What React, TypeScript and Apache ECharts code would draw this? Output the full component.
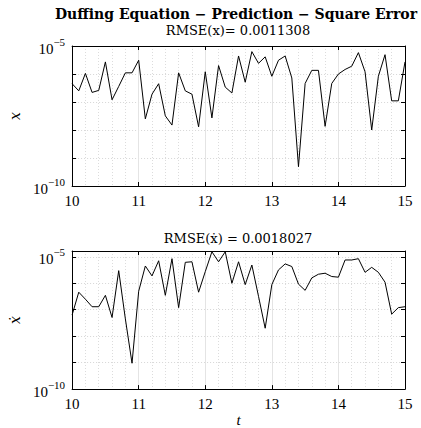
import React, { useEffect, useRef } from 'react';
import * as echarts from 'echarts';

// Time samples (s)
const tValues = [
  10.0, 10.1, 10.2, 10.3, 10.4, 10.5, 10.6, 10.7, 10.8, 10.9,
  11.0, 11.1, 11.2, 11.3, 11.4, 11.5, 11.6, 11.7, 11.8, 11.9,
  12.0, 12.1, 12.2, 12.3, 12.4, 12.5, 12.6, 12.7, 12.8, 12.9,
  13.0, 13.1, 13.2, 13.3, 13.4, 13.5, 13.6, 13.7, 13.8, 13.9,
  14.0, 14.1, 14.2, 14.3, 14.4, 14.5, 14.6, 14.7, 14.8, 14.9,
  15.0,
];

// Square error of the predicted position x
const errX = [
  4.5e-7, 2.5e-7, 1.05e-6, 2.2e-7, 2.6e-7, 2.7e-6, 1.2e-7, 3.6e-7, 1.1e-6, 1.1e-6,
  3.1e-6, 2.5e-8, 1.9e-7, 4.5e-7, 3.2e-8, 1.5e-8, 1.1e-6, 2.5e-7, 1.9e-7, 1.3e-8,
  1.2e-6, 2.7e-8, 2.0e-6, 3.4e-7, 2.1e-7, 4.4e-6, 5.1e-7, 6.3e-6, 2.4e-6, 4.1e-6,
  8.3e-7, 3.1e-6, 4.4e-6, 7.2e-7, 4.9e-10, 4.6e-7, 1.35e-6, 1.35e-6, 1.35e-8, 4.6e-7,
  1.0e-6, 1.45e-6, 1.9e-6, 5.8e-6, 1.2e-6, 1.0e-8, 8.3e-7, 4.9e-6, 1.1e-7, 1.1e-7,
  2.7e-6,
];

// Square error of the predicted velocity x-dot
const errXDot = [
  6.3e-8, 4.6e-7, 2.5e-7, 1.3e-7, 1.3e-7, 3.5e-7, 5.1e-8, 3.0e-6, 4.5e-8, 9.5e-10,
  5.0e-7, 4.5e-6, 1.9e-6, 7.1e-6, 3.5e-7, 8.5e-6, 1.2e-7, 6.2e-6, 6.5e-6, 4.6e-7,
  2.75e-6, 1.55e-5, 6.5e-6, 1.55e-5, 1.0e-6, 6.5e-6, 8.9e-7, 4.9e-6, 3.2e-7, 2.0e-8,
  8.9e-7, 3.2e-6, 5.4e-6, 4.3e-6, 9.3e-7, 5.4e-7, 1.6e-6, 2.2e-6, 2.4e-6, 1.8e-6,
  1.7e-6, 7.6e-6, 7.6e-6, 8.5e-6, 2.6e-6, 4.0e-6, 2.6e-6, 1.1e-6, 6.8e-8, 1.2e-7,
  1.3e-7,
];

const mainTitle = 'Duffing Equation \u2212 Prediction \u2212 Square Error';
const subTitleX = 'RMSE(x)= 0.0011308';
const subTitleXDot = 'RMSE(\u1E8B) = 0.0018027';
const labeledExponents = [-5, -10];

const SERIF = '"Liberation Serif", "DejaVu Serif", serif';
const WIDE_SERIF = '"DejaVu Serif", serif';

function logLabel(v: number): string {
  const e = Math.log10(v);
  const r = Math.round(e);
  if (Math.abs(e - r) > 1e-6 || !labeledExponents.includes(r)) return '';
  return `{b|10}{s|\u2212${-r}}`;
}

function xAxes(gridIndex: number, withName: boolean) {
  return [
    {
      type: 'value',
      gridIndex,
      min: 10,
      max: 15,
      interval: 1,
      position: 'bottom',
      name: withName ? 't' : '',
      nameLocation: 'middle',
      nameGap: 20,
      nameTextStyle: { fontFamily: SERIF, fontStyle: 'italic', fontSize: 15, color: '#000' },
      axisLine: { show: true, lineStyle: { color: '#000', width: 1 } },
      axisTick: { show: true, inside: true, length: 4, lineStyle: { color: '#000' } },
      axisLabel: { fontFamily: SERIF, fontSize: 15, color: '#000', margin: 7 },
      splitLine: { show: true, lineStyle: { color: '#e4e4e4', width: 1, type: 'solid' } },
      minorTick: { show: false, splitNumber: 5 },
      minorSplitLine: { show: true, lineStyle: { color: '#dcdcdc', width: 1, type: [1, 2] } },
    },
    {
      type: 'value',
      gridIndex,
      min: 10,
      max: 15,
      interval: 1,
      position: 'top',
      axisLine: { show: true, lineStyle: { color: '#000', width: 1 } },
      axisTick: { show: true, inside: true, length: 4, lineStyle: { color: '#000' } },
      axisLabel: { show: false },
      splitLine: { show: false },
    },
  ];
}

function yAxes(gridIndex: number, max: number, name: string) {
  return [
    {
      type: 'log',
      logBase: 10,
      gridIndex,
      min: 1e-10,
      max,
      splitNumber: 5,
      position: 'left',
      name,
      nameLocation: 'middle',
      nameGap: 48,
      nameRotate: 90,
      nameTextStyle: { fontFamily: WIDE_SERIF, fontStyle: 'italic', fontSize: 14, color: '#000' },
      axisLine: { show: true, lineStyle: { color: '#000', width: 1 } },
      axisTick: { show: true, inside: true, length: 4, lineStyle: { color: '#000' } },
      axisLabel: {
        formatter: logLabel,
        margin: 7,
        rich: {
          b: { fontFamily: SERIF, fontSize: 15, color: '#000', lineHeight: 20, verticalAlign: 'bottom' },
          s: { fontFamily: SERIF, fontSize: 11, color: '#000', lineHeight: 11, verticalAlign: 'top' },
        },
      },
      splitLine: { show: true, lineStyle: { color: '#d6d6d6', width: 1, type: [1, 2] } },
    },
    {
      type: 'log',
      logBase: 10,
      gridIndex,
      min: 1e-10,
      max,
      splitNumber: 5,
      position: 'right',
      axisLine: { show: true, lineStyle: { color: '#000', width: 1 } },
      axisTick: { show: true, inside: true, length: 4, lineStyle: { color: '#000' } },
      axisLabel: { show: false },
      splitLine: { show: false },
    },
  ];
}

function titleText(text: string, x: number, y: number, size: number, bold: boolean) {
  return {
    type: 'text',
    x,
    y,
    style: {
      text,
      fontFamily: WIDE_SERIF,
      fontWeight: bold ? 'bold' : 'normal',
      fontSize: size,
      fill: '#000',
      align: 'center',
      verticalAlign: 'middle',
      textAlign: 'center',
      textVerticalAlign: 'middle',
    },
  };
}

export default function App() {
  const ref = useRef<HTMLDivElement>(null);

  useEffect(() => {
    if (!ref.current) return;
    const chart = echarts.init(ref.current, null, { renderer: 'svg' });

    const seriesX = tValues.map((t, i) => [t, errX[i]]);
    const seriesXDot = tValues.map((t, i) => [t, errXDot[i]]);

    chart.setOption({
      animation: false,
      backgroundColor: '#fff',
      grid: [
        { left: 72, top: 46, width: 333, height: 140, containLabel: false },
        { left: 72, top: 251, width: 333, height: 140, containLabel: false },
      ],
      xAxis: [...xAxes(0, false), ...xAxes(1, true)],
      yAxis: [...yAxes(0, 1e-5, 'x'), ...yAxes(1, 1.66e-5, '\u1E8B')],
      graphic: [
        titleText(mainTitle, 236, 14, 14, true),
        titleText(subTitleX, 238, 30, 13, false),
        titleText(subTitleXDot, 238, 238, 13, false),
      ],
      series: [
        {
          type: 'line',
          xAxisIndex: 0,
          yAxisIndex: 0,
          data: seriesX,
          showSymbol: false,
          symbol: 'none',
          lineStyle: { color: '#000', width: 1 },
          z: 3,
        },
        {
          type: 'line',
          xAxisIndex: 2,
          yAxisIndex: 2,
          data: seriesXDot,
          showSymbol: false,
          symbol: 'none',
          lineStyle: { color: '#000', width: 1 },
          z: 3,
          markLine: {
            silent: true,
            symbol: 'none',
            label: { show: false },
            lineStyle: { color: '#e4e4e4', width: 1, type: 'solid' },
            data: [{ yAxis: 1e-5 }],
          },
        },
      ],
    });

    return () => chart.dispose();
  }, []);

  return (
    <div
      ref={ref}
      style={{ position: 'absolute', left: 0, top: 0, width: 421, height: 428 }}
    />
  );
}
